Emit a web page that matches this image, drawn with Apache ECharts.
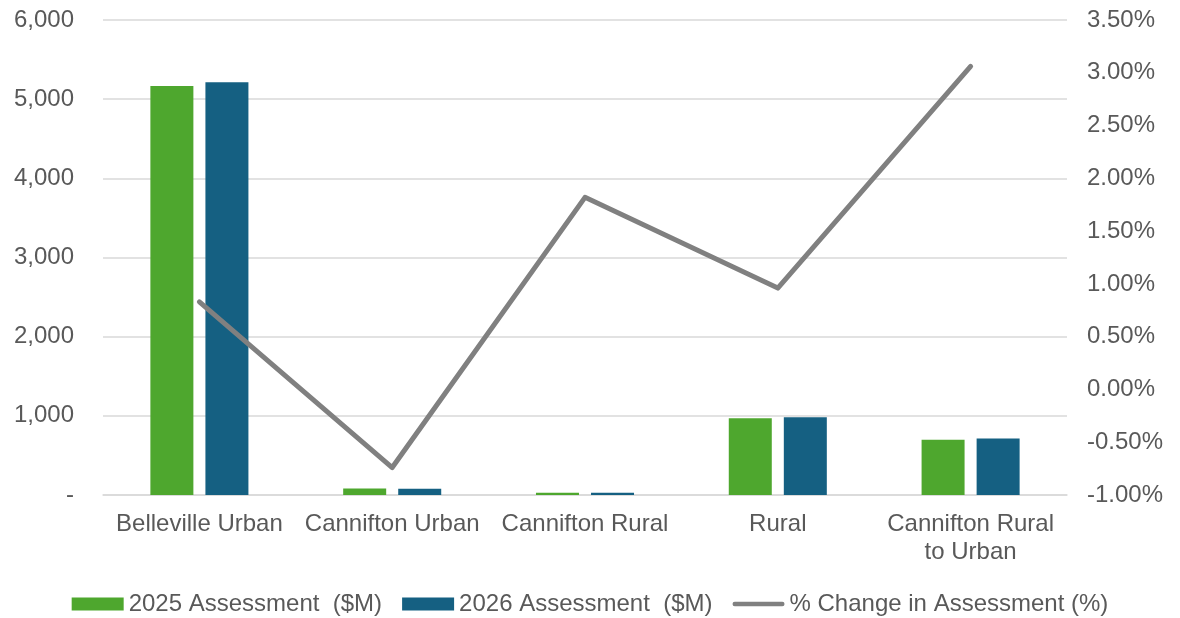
<!DOCTYPE html>
<html>
<head>
<meta charset="utf-8">
<script src="https://cdn.jsdelivr.net/npm/echarts@6/dist/echarts.min.js"></script>
<style>
  html, body { margin: 0; padding: 0; background: #fff; }
  #main { width: 1180px; height: 618px; }
</style>
</head>
<body>
<div id="main"></div>
<script>
// data
var categories = ['Belleville Urban', 'Cannifton Urban', 'Cannifton Rural', 'Rural', 'Cannifton Rural\nto Urban'];
var assess2025 = [5167, 82, 28, 969, 697];
var assess2026 = [5214, 78, 28, 981, 713];
var pctChange = [0.83, -0.74, 1.82, 0.96, 3.06];

var txt = '#595959';
var font = 'Arial, "Liberation Sans", sans-serif';

var chart = echarts.init(document.getElementById('main'));
var option = {
  animation: false,
  textStyle: { fontFamily: font },
  grid: { left: 103, right: 113, top: 20, bottom: 123 },
  legend: {
    top: 587,
    left: 'center',
    itemWidth: 52,
    itemHeight: 13,
    itemGap: 20,
    textStyle: { color: txt, fontSize: 24, fontFamily: font },
    data: [
      { name: '2025 Assessment  ($M)', icon: 'rect' },
      { name: '2026 Assessment  ($M)', icon: 'rect' },
      // thick grey stroke as legend key, padded to the full box
      { name: '% Change in Assessment (%)', icon: 'path://M0,0 L0,0 Z M2,4.3 L50,4.3 A2.2,2.2 0 0 1 50,8.7 L2,8.7 A2.2,2.2 0 0 1 2,4.3 Z M52,13 L52,13 Z' }
    ]
  },
  xAxis: {
    type: 'category',
    data: categories,
    axisTick: { show: false },
    axisLine: { lineStyle: { color: '#d9d9d9', width: 1.5 } },
    axisLabel: { color: txt, fontSize: 24, lineHeight: 28, margin: 15, interval: 0 }
  },
  yAxis: [
    {
      type: 'value',
      min: 0, max: 6000, interval: 1000,
      axisLine: { show: false },
      axisTick: { show: false },
      splitLine: { lineStyle: { color: '#d9d9d9', width: 1.5 } },
      axisLabel: {
        color: txt, fontSize: 24, margin: 29,
        formatter: function (v) { return v === 0 ? '-' : v.toLocaleString('en-US'); }
      }
    },
    {
      type: 'value',
      min: -1, max: 3.5, interval: 0.5,
      axisLine: { show: false },
      axisTick: { show: false },
      splitLine: { show: false },
      axisLabel: {
        color: txt, fontSize: 24, margin: 20,
        formatter: function (v) { return v.toFixed(2) + '%'; }
      }
    }
  ],
  series: [
    {
      name: '2025 Assessment  ($M)',
      type: 'bar',
      data: assess2025,
      barWidth: 43,
      barGap: '28%',
      itemStyle: { color: '#4ea72e' }
    },
    {
      name: '2026 Assessment  ($M)',
      type: 'bar',
      data: assess2026,
      barWidth: 43,
      itemStyle: { color: '#156082' }
    },
    {
      name: '% Change in Assessment (%)',
      type: 'line',
      yAxisIndex: 1,
      data: pctChange,
      symbol: 'none',
      lineStyle: { color: '#808080', width: 5, cap: 'round', join: 'round' },
      itemStyle: { color: '#808080' }
    }
  ]
};
chart.setOption(option);
</script>
</body>
</html>
